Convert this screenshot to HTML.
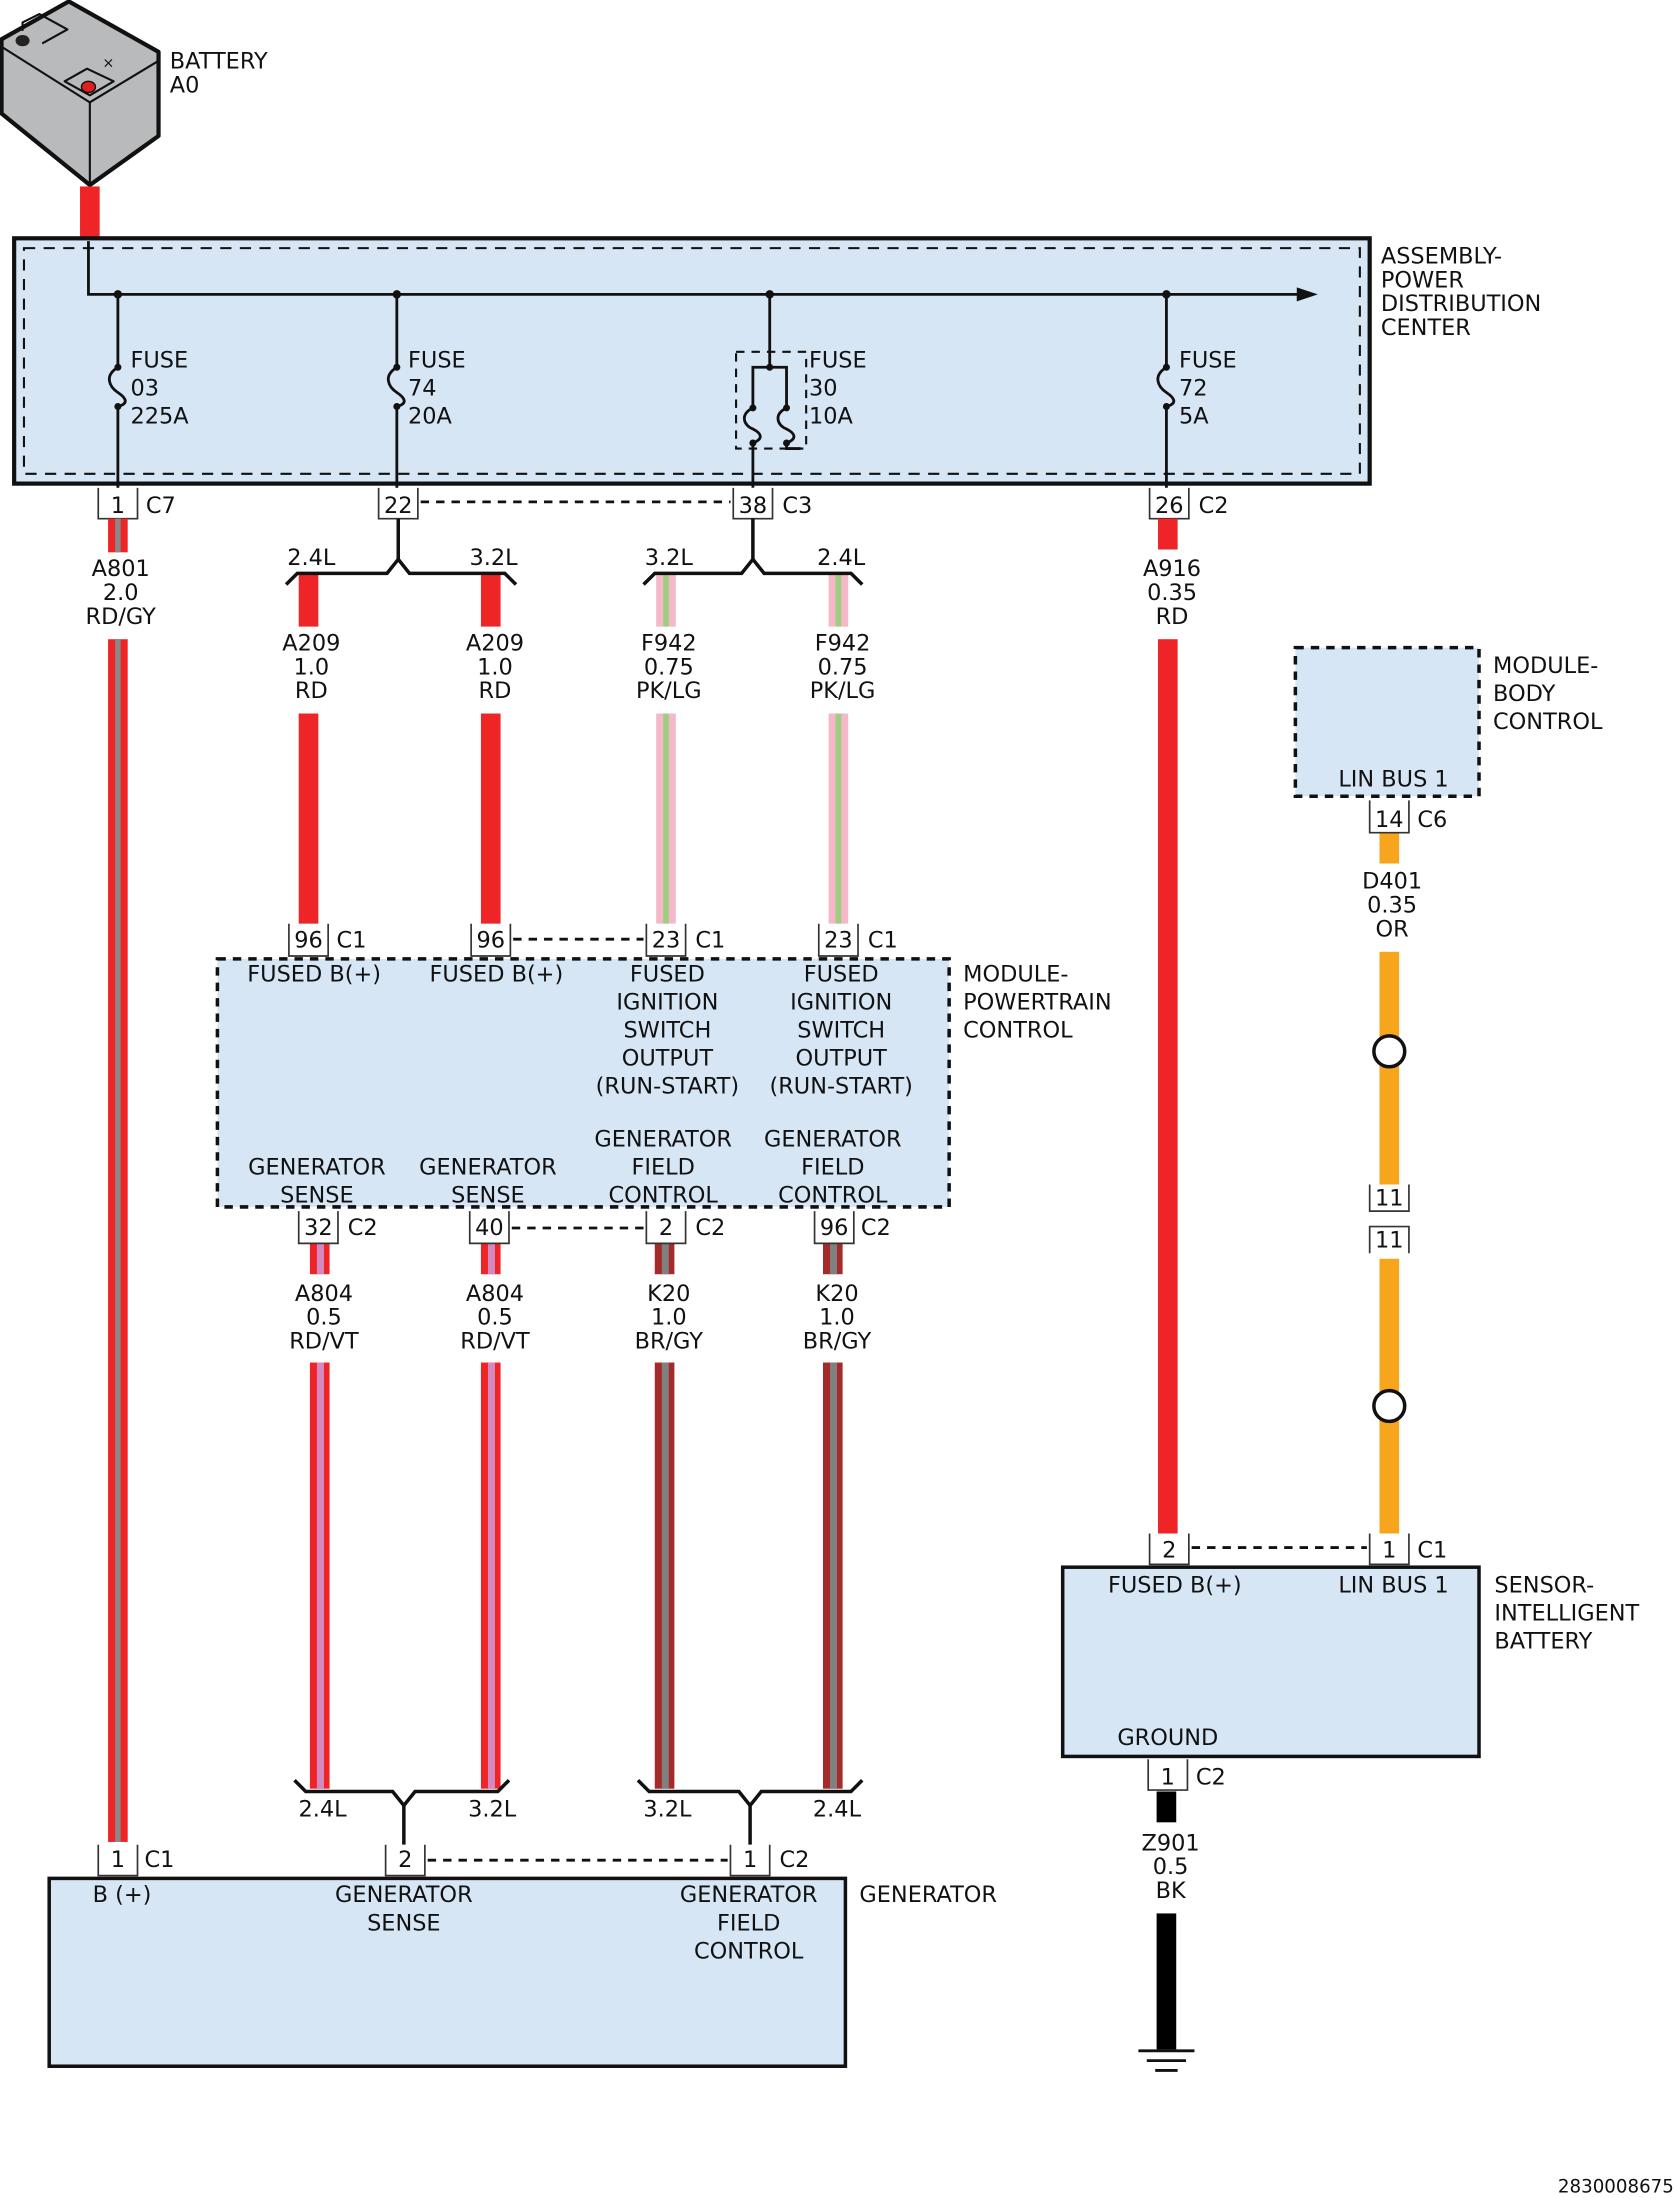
<!DOCTYPE html>
<html><head><meta charset="utf-8"><style>
html,body{margin:0;padding:0;background:#fff}
svg{display:block}
text{font-family:"DejaVu Sans","Liberation Sans",sans-serif;font-size:16px;fill:#111}
.c{text-anchor:middle}
.cb{fill:#fff;stroke:#333;stroke-width:1.2}
</style></head><body>
<svg width="1674" height="2198" viewBox="0 0 1194 1568" xmlns="http://www.w3.org/2000/svg">
<!-- battery -->
<g stroke="#111" stroke-width="3" stroke-linejoin="round">
<polygon points="1,28 49,1 113,37 113,97 64,132 1,81" fill="#b9babb"/>
<polyline points="2,34 64,73 112,44" fill="none" stroke-width="1.5"/>
<line x1="64" y1="73" x2="64" y2="132" stroke-width="1.5"/>
<polyline points="16,22 16,16 28,10 48,21 30,31" fill="none" stroke-width="1.5"/>
<polygon points="46,58 62,49 81,58 64,68" fill="#b9babb" stroke-width="1.5"/>
</g>
<ellipse cx="16" cy="29" rx="5" ry="4" fill="#222"/>
<ellipse cx="63" cy="62" rx="5" ry="4" fill="#e02020" stroke="#111" stroke-width="1"/>
<text x="73" y="48" style="font-size:10px">×</text>
<text x="121" y="49">BATTERY</text><text x="121" y="66">A0</text>
<rect x="57" y="133" width="14" height="38" fill="#ee2426"/>

<!-- PDC -->
<rect x="10" y="170" width="967" height="175" fill="#d6e6f5" stroke="#111" stroke-width="3"/>
<rect x="17" y="177" width="953" height="161" fill="none" stroke="#111" stroke-width="1.5" stroke-dasharray="8,6"/>
<g stroke="#111" stroke-width="2" fill="none">
<polyline points="63,172 63,210 930,210"/>
<line x1="84" y1="210" x2="84" y2="262"/><line x1="84" y1="290" x2="84" y2="348"/>
<line x1="283" y1="210" x2="283" y2="262"/><line x1="283" y1="290" x2="283" y2="348"/>
<line x1="832" y1="210" x2="832" y2="262"/><line x1="832" y1="290" x2="832" y2="348"/>
<path d="M84,262 C74,268 78,276 84,280 C90,284 92,288 84,290"/>
<path d="M283,262 C273,268 277,276 283,280 C289,284 291,288 283,290"/>
<path d="M832,262 C822,268 826,276 832,280 C838,284 840,288 832,290"/>
<line x1="549" y1="210" x2="549" y2="262"/>
<polyline points="537,290 537,262 561,262 561,290"/>
<path d="M537,291 C527,296 531,304 537,306 C543,309 545,313 537,316"/>
<path d="M561,291 C551,296 555,304 561,306 C567,309 569,313 561,316"/>
<line x1="537" y1="316" x2="537" y2="348"/><polyline points="561,316 561,320 571,320"/>
<rect x="525" y="251" width="50" height="69" stroke-width="1.5" stroke-dasharray="6,5"/>
</g>
<polygon points="925,205 940,210 925,215" fill="#111"/>
<g fill="#111"><circle cx="84" cy="210" r="3"/><circle cx="283" cy="210" r="3"/><circle cx="549" cy="210" r="3"/><circle cx="832" cy="210" r="3"/>
<circle cx="84" cy="262" r="2.5"/><circle cx="84" cy="290" r="2.5"/><circle cx="283" cy="262" r="2.5"/><circle cx="283" cy="290" r="2.5"/><circle cx="832" cy="262" r="2.5"/><circle cx="832" cy="290" r="2.5"/><circle cx="549" cy="262" r="2.5"/><circle cx="537" cy="291" r="2.5"/><circle cx="561" cy="291" r="2.5"/><circle cx="537" cy="316" r="2.5"/><circle cx="561" cy="316" r="2.5"/></g>
<text x="93" y="262">FUSE</text><text x="93" y="282">03</text><text x="93" y="302">225A</text>
<text x="291" y="262">FUSE</text><text x="291" y="282">74</text><text x="291" y="302">20A</text>
<text x="577" y="262">FUSE</text><text x="577" y="282">30</text><text x="577" y="302">10A</text>
<text x="841" y="262">FUSE</text><text x="841" y="282">72</text><text x="841" y="302">5A</text>
<text x="985" y="188">ASSEMBLY-</text><text x="985" y="205">POWER</text><text x="985" y="222">DISTRIBUTION</text><text x="985" y="239">CENTER</text>

<!-- PDC connectors -->
<path class="cb" d="M70,348V370H98V348"/><text x="84" y="366" class="c">1</text><text x="104" y="366">C7</text>
<path class="cb" d="M270,348V370H298V348"/><text x="284" y="366" class="c">22</text>
<path class="cb" d="M523,348V370H551V348"/><text x="537" y="366" class="c">38</text><text x="558" y="366">C3</text>
<path class="cb" d="M820,348V370H848V348"/><text x="834" y="366" class="c">26</text><text x="855" y="366">C2</text>
<g stroke="#111" stroke-width="2" stroke-dasharray="6,5"><line x1="300" y1="358" x2="521" y2="358"/><line x1="366" y1="670" x2="459" y2="670"/><line x1="365" y1="876" x2="459" y2="876"/><line x1="305" y1="1327" x2="519" y2="1327"/><line x1="850" y1="1104" x2="975" y2="1104"/></g>

<!-- wires -->
<g>
<rect x="77" y="370" width="14" height="24" fill="#ee2426"/><rect x="82" y="370" width="4" height="24" fill="#888"/>
<rect x="77" y="456" width="14" height="858" fill="#ee2426"/><rect x="82" y="456" width="4" height="858" fill="#888"/>
<rect x="213" y="409" width="14" height="38" fill="#ee2426"/><rect x="213" y="509" width="14" height="150" fill="#ee2426"/>
<rect x="343" y="409" width="14" height="38" fill="#ee2426"/><rect x="343" y="509" width="14" height="150" fill="#ee2426"/>
<rect x="468" y="409" width="14" height="38" fill="#f4b8c8"/><rect x="473" y="409" width="4" height="38" fill="#9ccf7f"/>
<rect x="468" y="509" width="14" height="150" fill="#f4b8c8"/><rect x="473" y="509" width="4" height="150" fill="#9ccf7f"/>
<rect x="591" y="409" width="14" height="38" fill="#f4b8c8"/><rect x="596" y="409" width="4" height="38" fill="#9ccf7f"/>
<rect x="591" y="509" width="14" height="150" fill="#f4b8c8"/><rect x="596" y="509" width="4" height="150" fill="#9ccf7f"/>
<rect x="826" y="370" width="14" height="22" fill="#ee2426"/><rect x="826" y="456" width="14" height="638" fill="#ee2426"/>
<rect x="221" y="887" width="14" height="22" fill="#ee2426"/><rect x="226" y="887" width="5" height="22" fill="#d48ac0"/>
<rect x="221" y="972" width="14" height="304" fill="#ee2426"/><rect x="226" y="972" width="5" height="304" fill="#d48ac0"/>
<rect x="343" y="887" width="14" height="22" fill="#ee2426"/><rect x="348" y="887" width="5" height="22" fill="#d48ac0"/>
<rect x="343" y="972" width="14" height="304" fill="#ee2426"/><rect x="348" y="972" width="5" height="304" fill="#d48ac0"/>
<rect x="467" y="887" width="14" height="22" fill="#a52a2a"/><rect x="472" y="887" width="5" height="22" fill="#808080"/>
<rect x="467" y="972" width="14" height="304" fill="#a52a2a"/><rect x="472" y="972" width="5" height="304" fill="#808080"/>
<rect x="587" y="887" width="14" height="22" fill="#a52a2a"/><rect x="592" y="887" width="5" height="22" fill="#808080"/>
<rect x="587" y="972" width="14" height="304" fill="#a52a2a"/><rect x="592" y="972" width="5" height="304" fill="#808080"/>
<rect x="984" y="594" width="14" height="22" fill="#f8a51e"/><rect x="984" y="679" width="14" height="166" fill="#f8a51e"/><rect x="984" y="898" width="14" height="196" fill="#f8a51e"/>
<rect x="825" y="1278" width="14" height="22" fill="#000"/><rect x="825" y="1365" width="14" height="97" fill="#000"/>
</g>
<circle cx="991" cy="750" r="11" fill="#fff" stroke="#111" stroke-width="2.5"/>
<circle cx="991" cy="1003" r="11" fill="#fff" stroke="#111" stroke-width="2.5"/>
<path class="cb" d="M977,845V864H1005V845"/><text x="991" y="860" class="c">11</text>
<path class="cb" d="M977,894V875H1005V894"/><text x="991" y="890" class="c">11</text>

<!-- wire labels -->
<g>
<text x="86" y="411" class="c">A801</text><text x="86" y="428" class="c">2.0</text><text x="86" y="445" class="c">RD/GY</text>
<text x="222" y="464" class="c">A209</text><text x="222" y="481" class="c">1.0</text><text x="222" y="498" class="c">RD</text>
<text x="353" y="464" class="c">A209</text><text x="353" y="481" class="c">1.0</text><text x="353" y="498" class="c">RD</text>
<text x="477" y="464" class="c">F942</text><text x="477" y="481" class="c">0.75</text><text x="477" y="498" class="c">PK/LG</text>
<text x="601" y="464" class="c">F942</text><text x="601" y="481" class="c">0.75</text><text x="601" y="498" class="c">PK/LG</text>
<text x="836" y="411" class="c">A916</text><text x="836" y="428" class="c">0.35</text><text x="836" y="445" class="c">RD</text>
<text x="231" y="928" class="c">A804</text><text x="231" y="945" class="c">0.5</text><text x="231" y="962" class="c">RD/VT</text>
<text x="353" y="928" class="c">A804</text><text x="353" y="945" class="c">0.5</text><text x="353" y="962" class="c">RD/VT</text>
<text x="477" y="928" class="c">K20</text><text x="477" y="945" class="c">1.0</text><text x="477" y="962" class="c">BR/GY</text>
<text x="597" y="928" class="c">K20</text><text x="597" y="945" class="c">1.0</text><text x="597" y="962" class="c">BR/GY</text>
<text x="993" y="634" class="c">D401</text><text x="993" y="651" class="c">0.35</text><text x="993" y="668" class="c">OR</text>
<text x="835" y="1320" class="c">Z901</text><text x="835" y="1337" class="c">0.5</text><text x="835" y="1354" class="c">BK</text>
</g>

<!-- splices -->
<g stroke="#111" stroke-width="2.5" fill="none" stroke-linejoin="miter">
<path d="M204,417 L212,409 H276 L284,399 L292,409 H360 L368,417"/><line x1="284" y1="370" x2="284" y2="399"/>
<path d="M459,417 L467,409 H529 L537,399 L545,409 H607 L615,417"/><line x1="537" y1="370" x2="537" y2="399"/>
<path d="M210,1270 L218,1278 H280 L288,1288 L296,1278 H355 L363,1270"/><line x1="288" y1="1288" x2="288" y2="1316"/>
<path d="M455,1270 L463,1278 H527 L535,1288 L543,1278 H607 L615,1270"/><line x1="535" y1="1288" x2="535" y2="1316"/>
</g>
<text x="222" y="403" class="c">2.4L</text><text x="352" y="403" class="c">3.2L</text>
<text x="477" y="403" class="c">3.2L</text><text x="600" y="403" class="c">2.4L</text>
<text x="230" y="1296" class="c">2.4L</text><text x="351" y="1296" class="c">3.2L</text>
<text x="476" y="1296" class="c">3.2L</text><text x="597" y="1296" class="c">2.4L</text>

<!-- PCM -->
<rect x="155" y="684" width="522" height="177" fill="#d6e6f5" stroke="#111" stroke-width="2.5" stroke-dasharray="6,5"/>
<path class="cb" d="M206,659V682H234V659"/><text x="220" y="676" class="c">96</text><text x="240" y="676">C1</text>
<path class="cb" d="M336,659V682H364V659"/><text x="350" y="676" class="c">96</text>
<path class="cb" d="M461,659V682H489V659"/><text x="475" y="676" class="c">23</text><text x="496" y="676">C1</text>
<path class="cb" d="M584,659V682H612V659"/><text x="598" y="676" class="c">23</text><text x="619" y="676">C1</text>
<path class="cb" d="M213,864V887H241V864"/><text x="227" y="881" class="c">32</text><text x="248" y="881">C2</text>
<path class="cb" d="M335,864V887H363V864"/><text x="349" y="881" class="c">40</text>
<path class="cb" d="M461,864V887H489V864"/><text x="475" y="881" class="c">2</text><text x="496" y="881">C2</text>
<path class="cb" d="M581,864V887H609V864"/><text x="595" y="881" class="c">96</text><text x="614" y="881">C2</text>
<text x="224" y="700" class="c">FUSED B(+)</text><text x="354" y="700" class="c">FUSED B(+)</text>
<text x="476" y="700" class="c">FUSED</text><text x="476" y="720" class="c">IGNITION</text><text x="476" y="740" class="c">SWITCH</text><text x="476" y="760" class="c">OUTPUT</text><text x="476" y="780" class="c">(RUN-START)</text>
<text x="600" y="700" class="c">FUSED</text><text x="600" y="720" class="c">IGNITION</text><text x="600" y="740" class="c">SWITCH</text><text x="600" y="760" class="c">OUTPUT</text><text x="600" y="780" class="c">(RUN-START)</text>
<text x="226" y="838" class="c">GENERATOR</text><text x="226" y="858" class="c">SENSE</text>
<text x="348" y="838" class="c">GENERATOR</text><text x="348" y="858" class="c">SENSE</text>
<text x="473" y="818" class="c">GENERATOR</text><text x="473" y="838" class="c">FIELD</text><text x="473" y="858" class="c">CONTROL</text>
<text x="594" y="818" class="c">GENERATOR</text><text x="594" y="838" class="c">FIELD</text><text x="594" y="858" class="c">CONTROL</text>
<text x="687" y="700">MODULE-</text><text x="687" y="720">POWERTRAIN</text><text x="687" y="740">CONTROL</text>

<!-- BCM -->
<rect x="924" y="462" width="131" height="106" fill="#d6e6f5" stroke="#111" stroke-width="2.5" stroke-dasharray="6,5"/>
<text x="994" y="561" class="c">LIN BUS 1</text>
<path class="cb" d="M977,571V594H1005V571"/><text x="991" y="590" class="c">14</text><text x="1011" y="590">C6</text>
<text x="1065" y="480">MODULE-</text><text x="1065" y="500">BODY</text><text x="1065" y="520">CONTROL</text>

<!-- sensor -->
<rect x="758" y="1118" width="297" height="135" fill="#d6e6f5" stroke="#111" stroke-width="2.5"/>
<path class="cb" d="M820,1094V1116H848V1094"/><text x="834" y="1111" class="c">2</text>
<path class="cb" d="M977,1094V1116H1005V1094"/><text x="991" y="1111" class="c">1</text><text x="1011" y="1111">C1</text>
<path class="cb" d="M819,1255V1277H847V1255"/><text x="833" y="1273" class="c">1</text><text x="853" y="1273">C2</text>
<text x="838" y="1136" class="c">FUSED B(+)</text><text x="994" y="1136" class="c">LIN BUS 1</text>
<text x="833" y="1245" class="c">GROUND</text>
<text x="1066" y="1136">SENSOR-</text><text x="1066" y="1156">INTELLIGENT</text><text x="1066" y="1176">BATTERY</text>
<g stroke="#111" stroke-width="2"><line x1="812" y1="1463" x2="852" y2="1463"/><line x1="818" y1="1470" x2="846" y2="1470"/><line x1="824" y1="1477" x2="840" y2="1477"/></g>

<!-- generator -->
<rect x="35" y="1340" width="568" height="134" fill="#d6e6f5" stroke="#111" stroke-width="2.5"/>
<path class="cb" d="M70,1316V1338H98V1316"/><text x="84" y="1332" class="c">1</text><text x="103" y="1332">C1</text>
<path class="cb" d="M275,1316V1338H303V1316"/><text x="289" y="1332" class="c">2</text>
<path class="cb" d="M521,1316V1338H549V1316"/><text x="535" y="1332" class="c">1</text><text x="556" y="1332">C2</text>
<text x="66" y="1357">B (+)</text>
<text x="288" y="1357" class="c">GENERATOR</text><text x="288" y="1377" class="c">SENSE</text>
<text x="534" y="1357" class="c">GENERATOR</text><text x="534" y="1377" class="c">FIELD</text><text x="534" y="1397" class="c">CONTROL</text>
<text x="613" y="1357">GENERATOR</text>
<text x="1194" y="1564" style="font-size:13px;text-anchor:end">2830008675</text>
</svg>
</body></html>
